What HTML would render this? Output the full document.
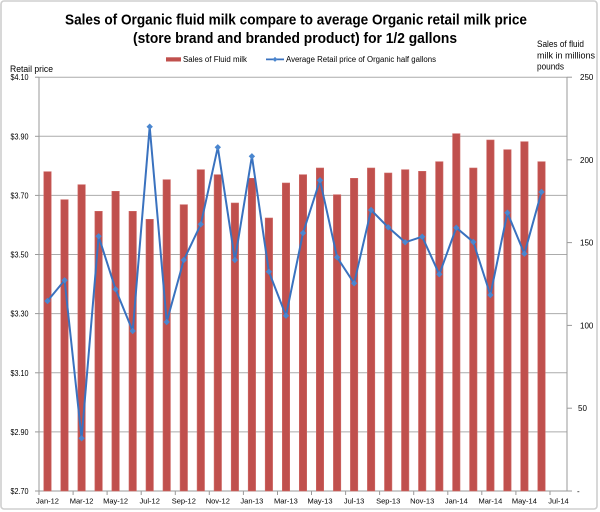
<!DOCTYPE html>
<html><head><meta charset="utf-8"><style>
html,body{margin:0;padding:0;background:#fff;}
svg{display:block;font-family:"Liberation Sans",Arial,sans-serif;}
</style></head><body>
<svg width="600" height="512" viewBox="0 0 600 512" xmlns="http://www.w3.org/2000/svg">
<rect x="0" y="0" width="600" height="512" fill="#fff"/>
<rect x="1" y="1" width="596" height="508" rx="3" fill="#fff" stroke="#cfcfcf" stroke-width="1.6"/>

<!-- Title -->
<text x="296" y="24.5" font-size="15" font-weight="bold" text-anchor="middle" textLength="462" lengthAdjust="spacingAndGlyphs">Sales of Organic fluid milk compare to average Organic retail milk price</text>
<text x="295" y="43" font-size="15" font-weight="bold" text-anchor="middle" textLength="324" lengthAdjust="spacingAndGlyphs">(store brand and branded product) for 1/2 gallons</text>

<!-- Legend -->
<rect x="166" y="57.3" width="15" height="4.2" fill="#c0504d"/>
<text x="183" y="62" font-size="7.8" textLength="64" lengthAdjust="spacingAndGlyphs">Sales of Fluid milk</text>
<line x1="266" y1="59.4" x2="284" y2="59.4" stroke="#3a72bf" stroke-width="1.8"/>
<path d="M275 56.9 L277.5 59.4 L275 61.9 L272.5 59.4 Z" fill="#4a86cf"/>
<text x="286" y="62" font-size="7.8" textLength="150" lengthAdjust="spacingAndGlyphs">Average Retail price of Organic half gallons</text>

<!-- Axis titles -->
<text x="10" y="72" font-size="9" textLength="43" lengthAdjust="spacingAndGlyphs">Retail price</text>
<text x="537" y="47" font-size="9" textLength="47" lengthAdjust="spacingAndGlyphs">Sales of fluid</text>
<text x="537" y="58.5" font-size="9" textLength="58" lengthAdjust="spacingAndGlyphs">milk in millions</text>
<text x="537" y="69.5" font-size="9" textLength="27" lengthAdjust="spacingAndGlyphs">pounds</text>

<!-- Gridlines -->
<g stroke="#ababab" stroke-width="1">
<line x1="39" y1="77.2" x2="567" y2="77.2"/>
<line x1="39" y1="136.3" x2="567" y2="136.3"/>
<line x1="39" y1="195.4" x2="567" y2="195.4"/>
<line x1="39" y1="254.5" x2="567" y2="254.5"/>
<line x1="39" y1="313.6" x2="567" y2="313.6"/>
<line x1="39" y1="372.8" x2="567" y2="372.8"/>
<line x1="39" y1="431.9" x2="567" y2="431.9"/>
</g>
<!-- Axes -->
<g stroke="#9a9a9a" stroke-width="1">
<line x1="39" y1="77" x2="39" y2="491"/>
<line x1="567" y1="77" x2="567" y2="491"/>
<line x1="39" y1="491" x2="567" y2="491"/>
<!-- left ticks -->
<line x1="35" y1="77.2" x2="39" y2="77.2"/>
<line x1="35" y1="136.3" x2="39" y2="136.3"/>
<line x1="35" y1="195.4" x2="39" y2="195.4"/>
<line x1="35" y1="254.5" x2="39" y2="254.5"/>
<line x1="35" y1="313.6" x2="39" y2="313.6"/>
<line x1="35" y1="372.8" x2="39" y2="372.8"/>
<line x1="35" y1="431.9" x2="39" y2="431.9"/>
<line x1="35" y1="491" x2="39" y2="491"/>
<!-- right ticks -->
<line x1="567" y1="77.2" x2="572" y2="77.2"/>
<line x1="567" y1="159.8" x2="572" y2="159.8"/>
<line x1="567" y1="242.6" x2="572" y2="242.6"/>
<line x1="567" y1="325.4" x2="572" y2="325.4"/>
<line x1="567" y1="408.2" x2="572" y2="408.2"/>
<line x1="567" y1="491" x2="572" y2="491"/>
<!-- bottom ticks -->
<line x1="39" y1="491" x2="39" y2="495"/>
<line x1="73.1" y1="491" x2="73.1" y2="495"/>
<line x1="107.1" y1="491" x2="107.1" y2="495"/>
<line x1="141.2" y1="491" x2="141.2" y2="495"/>
<line x1="175.3" y1="491" x2="175.3" y2="495"/>
<line x1="209.3" y1="491" x2="209.3" y2="495"/>
<line x1="243.4" y1="491" x2="243.4" y2="495"/>
<line x1="277.5" y1="491" x2="277.5" y2="495"/>
<line x1="311.5" y1="491" x2="311.5" y2="495"/>
<line x1="345.6" y1="491" x2="345.6" y2="495"/>
<line x1="379.6" y1="491" x2="379.6" y2="495"/>
<line x1="413.7" y1="491" x2="413.7" y2="495"/>
<line x1="447.8" y1="491" x2="447.8" y2="495"/>
<line x1="481.8" y1="491" x2="481.8" y2="495"/>
<line x1="515.9" y1="491" x2="515.9" y2="495"/>
<line x1="550" y1="491" x2="550" y2="495"/>
</g>

<!-- Left labels -->
<g font-size="8" text-anchor="end">
<text x="28.5" y="80.2" textLength="18" lengthAdjust="spacingAndGlyphs">$4.10</text>
<text x="28.5" y="139.3" textLength="18" lengthAdjust="spacingAndGlyphs">$3.90</text>
<text x="28.5" y="198.4" textLength="18" lengthAdjust="spacingAndGlyphs">$3.70</text>
<text x="28.5" y="257.5" textLength="18" lengthAdjust="spacingAndGlyphs">$3.50</text>
<text x="28.5" y="316.6" textLength="18" lengthAdjust="spacingAndGlyphs">$3.30</text>
<text x="28.5" y="375.8" textLength="18" lengthAdjust="spacingAndGlyphs">$3.10</text>
<text x="28.5" y="434.9" textLength="18" lengthAdjust="spacingAndGlyphs">$2.90</text>
<text x="28.5" y="494" textLength="18" lengthAdjust="spacingAndGlyphs">$2.70</text>
</g>
<!-- Right labels -->
<g font-size="8">
<text x="580" y="80.2">250</text>
<text x="580" y="162.8">200</text>
<text x="580" y="245.6">150</text>
<text x="580" y="328.4">100</text>
<text x="578" y="411.2">50</text>
<text x="577" y="494">-</text>
</g>

<!-- X labels -->
<g font-size="7.5" text-anchor="middle">
<text x="47.5" y="503.5">Jan-12</text>
<text x="81.6" y="503.5">Mar-12</text>
<text x="115.6" y="503.5">May-12</text>
<text x="149.7" y="503.5">Jul-12</text>
<text x="183.8" y="503.5">Sep-12</text>
<text x="217.8" y="503.5">Nov-12</text>
<text x="251.9" y="503.5">Jan-13</text>
<text x="285.9" y="503.5">Mar-13</text>
<text x="320" y="503.5">May-13</text>
<text x="354.1" y="503.5">Jul-13</text>
<text x="388.2" y="503.5">Sep-13</text>
<text x="422.2" y="503.5">Nov-13</text>
<text x="456.3" y="503.5">Jan-14</text>
<text x="490.4" y="503.5">Mar-14</text>
<text x="524.4" y="503.5">May-14</text>
<text x="558.5" y="503.5">Jul-14</text>
</g>

<!-- Bars -->
<g fill="#c0504d" stroke="#cf6a67" stroke-width="0.6">
<rect x="43.8" y="171.7" width="7.4" height="319.3"/>
<rect x="60.8" y="199.7" width="7.4" height="291.3"/>
<rect x="77.9" y="184.7" width="7.4" height="306.3"/>
<rect x="94.9" y="211.3" width="7.4" height="279.7"/>
<rect x="111.9" y="191.3" width="7.4" height="299.7"/>
<rect x="129" y="211.3" width="7.4" height="279.7"/>
<rect x="146" y="219.3" width="7.4" height="271.7"/>
<rect x="163" y="179.7" width="7.4" height="311.3"/>
<rect x="180.1" y="204.7" width="7.4" height="286.3"/>
<rect x="197.1" y="169.7" width="7.4" height="321.3"/>
<rect x="214.1" y="174.7" width="7.4" height="316.3"/>
<rect x="231.2" y="203" width="7.4" height="288"/>
<rect x="248.2" y="178.3" width="7.4" height="312.7"/>
<rect x="265.2" y="218" width="7.4" height="273"/>
<rect x="282.3" y="183" width="7.4" height="308"/>
<rect x="299.3" y="174.7" width="7.4" height="316.3"/>
<rect x="316.3" y="168" width="7.4" height="323"/>
<rect x="333.4" y="194.7" width="7.4" height="296.3"/>
<rect x="350.4" y="178.3" width="7.4" height="312.7"/>
<rect x="367.4" y="168" width="7.4" height="323"/>
<rect x="384.5" y="173" width="7.4" height="318"/>
<rect x="401.5" y="169.7" width="7.4" height="321.3"/>
<rect x="418.5" y="171.3" width="7.4" height="319.7"/>
<rect x="435.6" y="161.7" width="7.4" height="329.3"/>
<rect x="452.6" y="133.7" width="7.4" height="357.3"/>
<rect x="469.6" y="168" width="7.4" height="323"/>
<rect x="486.7" y="140" width="7.4" height="351"/>
<rect x="503.7" y="149.7" width="7.4" height="341.3"/>
<rect x="520.7" y="141.7" width="7.4" height="349.3"/>
<rect x="537.8" y="161.7" width="7.4" height="329.3"/>
</g>

<!-- Line -->
<polyline fill="none" stroke="#3a72bf" stroke-width="2" stroke-linejoin="miter" points="47.5,301 64.6,280.3 81.6,438.3 98.6,236.3 115.6,289.3 132.7,331 149.7,126.7 166.7,322 183.8,260 200.8,224.3 217.8,147.3 234.9,260 251.9,156.3 268.9,271.7 286,315.7 303,233 320,180.3 337.1,257.3 354.1,283.3 371.1,210 388.2,227.3 405.2,242.3 422.2,236.7 439.3,274.3 456.3,227.7 473.3,242 490.4,295 507.4,212.7 524.4,253.7 541.5,192"/>
<g fill="#4a86cf">
<path d="M47.5 297.8 l3.2 3.2 l-3.2 3.2 l-3.2 -3.2 Z"/>
<path d="M64.6 277.1 l3.2 3.2 l-3.2 3.2 l-3.2 -3.2 Z"/>
<path d="M81.6 435.1 l3.2 3.2 l-3.2 3.2 l-3.2 -3.2 Z"/>
<path d="M98.6 233.1 l3.2 3.2 l-3.2 3.2 l-3.2 -3.2 Z"/>
<path d="M115.6 286.1 l3.2 3.2 l-3.2 3.2 l-3.2 -3.2 Z"/>
<path d="M132.7 327.8 l3.2 3.2 l-3.2 3.2 l-3.2 -3.2 Z"/>
<path d="M149.7 123.5 l3.2 3.2 l-3.2 3.2 l-3.2 -3.2 Z"/>
<path d="M166.7 318.8 l3.2 3.2 l-3.2 3.2 l-3.2 -3.2 Z"/>
<path d="M183.8 256.8 l3.2 3.2 l-3.2 3.2 l-3.2 -3.2 Z"/>
<path d="M200.8 221.1 l3.2 3.2 l-3.2 3.2 l-3.2 -3.2 Z"/>
<path d="M217.8 144.1 l3.2 3.2 l-3.2 3.2 l-3.2 -3.2 Z"/>
<path d="M234.9 256.8 l3.2 3.2 l-3.2 3.2 l-3.2 -3.2 Z"/>
<path d="M251.9 153.1 l3.2 3.2 l-3.2 3.2 l-3.2 -3.2 Z"/>
<path d="M268.9 268.5 l3.2 3.2 l-3.2 3.2 l-3.2 -3.2 Z"/>
<path d="M286 312.5 l3.2 3.2 l-3.2 3.2 l-3.2 -3.2 Z"/>
<path d="M303 229.8 l3.2 3.2 l-3.2 3.2 l-3.2 -3.2 Z"/>
<path d="M320 177.1 l3.2 3.2 l-3.2 3.2 l-3.2 -3.2 Z"/>
<path d="M337.1 254.1 l3.2 3.2 l-3.2 3.2 l-3.2 -3.2 Z"/>
<path d="M354.1 280.1 l3.2 3.2 l-3.2 3.2 l-3.2 -3.2 Z"/>
<path d="M371.1 206.8 l3.2 3.2 l-3.2 3.2 l-3.2 -3.2 Z"/>
<path d="M388.2 224.1 l3.2 3.2 l-3.2 3.2 l-3.2 -3.2 Z"/>
<path d="M405.2 239.1 l3.2 3.2 l-3.2 3.2 l-3.2 -3.2 Z"/>
<path d="M422.2 233.5 l3.2 3.2 l-3.2 3.2 l-3.2 -3.2 Z"/>
<path d="M439.3 271.1 l3.2 3.2 l-3.2 3.2 l-3.2 -3.2 Z"/>
<path d="M456.3 224.5 l3.2 3.2 l-3.2 3.2 l-3.2 -3.2 Z"/>
<path d="M473.3 238.8 l3.2 3.2 l-3.2 3.2 l-3.2 -3.2 Z"/>
<path d="M490.4 291.8 l3.2 3.2 l-3.2 3.2 l-3.2 -3.2 Z"/>
<path d="M507.4 209.5 l3.2 3.2 l-3.2 3.2 l-3.2 -3.2 Z"/>
<path d="M524.4 250.5 l3.2 3.2 l-3.2 3.2 l-3.2 -3.2 Z"/>
<path d="M541.5 188.8 l3.2 3.2 l-3.2 3.2 l-3.2 -3.2 Z"/>
</g>
</svg>
</body></html>
